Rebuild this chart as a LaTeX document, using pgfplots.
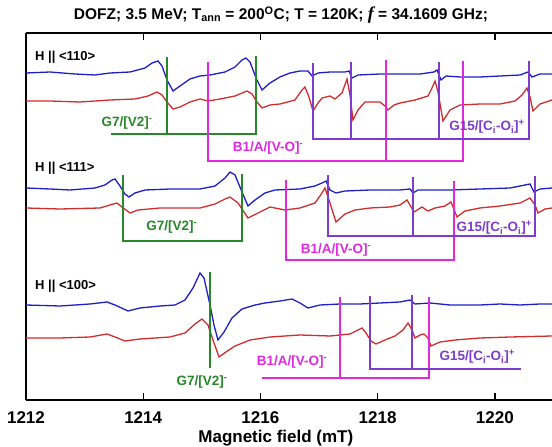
\documentclass[border=0pt]{standalone}
\usepackage{fontspec}
\setmainfont{Liberation Sans}
\newfontfamily\titleserif{Liberation Serif}
\usepackage{pgfplots}
\pgfplotsset{compat=1.18}
\definecolor{cblue}{RGB}{30,30,200}
\definecolor{cred}{RGB}{210,45,45}
\definecolor{cgreen}{RGB}{40,135,40}
\definecolor{cmag}{RGB}{225,40,225}
\definecolor{cvio}{RGB}{125,60,205}
\begin{document}
\begin{tikzpicture}
\useasboundingbox (0,0) rectangle (552pt,447pt);
\begin{axis}[
  at={(26pt,47pt)}, anchor=south west,
  scale only axis, width=526pt, height=367pt,
  xmin=1212, xmax=1220.976, ymin=47, ymax=414,
  axis x line*=box, axis y line*=left,
  axis line style={line width=1.6pt, black},
  xtick={1212,1214,1216,1218,1220},
  xticklabels={1212,1214,1216,1218,1220},
  ytick=\empty,
  tick align=inside, major tick length=7pt,
  tick style={line width=1.4pt, black},
  xticklabel style={font=\fontsize{17}{20}\selectfont\bfseries, anchor=center, yshift=-18pt},
  xlabel={Magnetic field (mT)},
  xlabel style={font=\fontsize{17}{20}\selectfont\bfseries, at={(axis description cs:0.475,0)}, anchor=center, yshift=-38pt},
  clip=false,
  every axis plot/.append style={line width=1.5pt, smooth, tension=0.45},
]
% ---------- H || <110>
\addplot[cblue] coordinates {
(1212.000,374) (1212.410,375) (1212.836,373) (1213.177,372) (1213.433,374) (1213.775,375)
(1214.031,379) (1214.150,384) (1214.253,386) (1214.321,381) (1214.406,367) (1214.509,356)
(1214.628,361) (1214.799,368) (1214.969,371) (1215.140,372) (1215.396,375) (1215.567,380)
(1215.686,387) (1215.754,389) (1215.823,385) (1215.925,369) (1216.027,357) (1216.164,364)
(1216.334,370) (1216.505,374) (1216.676,376) (1216.812,376) (1216.881,371) (1216.983,374)
(1217.188,375) (1217.444,375) (1217.512,376) (1217.563,369) (1217.666,372) (1218.041,373)
(1218.382,373) (1218.724,373) (1218.962,375) (1219.014,377) (1219.082,367) (1219.167,371)
(1219.406,370) (1219.747,370) (1220.089,371) (1220.430,372) (1220.567,375) (1220.635,370)
(1220.771,373) (1220.976,373)};
\addplot[cred] coordinates {
(1212.000,346) (1212.410,346) (1212.922,345) (1213.433,347) (1213.860,348) (1214.082,351)
(1214.235,355) (1214.321,352) (1214.406,345) (1214.509,338) (1214.628,340) (1214.799,345)
(1214.969,348) (1215.106,346) (1215.311,348) (1215.567,351) (1215.771,356) (1215.857,353)
(1215.942,345) (1216.027,339) (1216.164,342) (1216.334,343) (1216.590,347) (1216.710,357)
(1216.761,360) (1216.829,350) (1216.898,336) (1216.983,344) (1217.051,349) (1217.188,351)
(1217.273,348) (1217.392,354) (1217.478,368) (1217.529,352) (1217.580,327) (1217.666,337)
(1217.785,345) (1218.041,345) (1218.126,341) (1218.177,337) (1218.280,342) (1218.382,344)
(1218.638,347) (1218.860,351) (1218.928,359) (1218.980,366) (1219.031,355) (1219.116,326)
(1219.235,337) (1219.406,342) (1219.747,343) (1220.089,343) (1220.345,346) (1220.464,352)
(1220.549,359) (1220.601,350) (1220.652,336) (1220.771,343) (1220.976,347)};
% ---------- H || <111>
\addplot[cblue] coordinates {
(1212.000,259) (1212.410,258) (1212.751,257) (1213.177,259) (1213.348,262) (1213.468,267)
(1213.519,268) (1213.604,261) (1213.689,253) (1213.758,250) (1213.860,254) (1214.031,257)
(1214.457,258) (1214.969,258) (1215.225,261) (1215.396,269) (1215.481,275) (1215.567,272)
(1215.686,255) (1215.788,241) (1215.908,247) (1216.078,254) (1216.249,257) (1216.676,258)
(1216.932,261) (1217.051,264) (1217.119,266) (1217.188,257) (1217.290,254) (1217.444,256)
(1217.870,257) (1218.382,257) (1218.553,258) (1218.604,254) (1218.689,257) (1219.235,257)
(1219.747,258) (1220.259,259) (1220.515,262) (1220.601,263) (1220.669,255) (1220.771,258)
(1220.976,259)};
\addplot[cred] coordinates {
(1212.000,239) (1212.580,238) (1213.263,239) (1213.433,242) (1213.553,244) (1213.638,240)
(1213.775,234) (1213.911,237) (1214.287,239) (1214.969,239) (1215.225,243) (1215.396,248)
(1215.481,250) (1215.618,244) (1215.788,229) (1215.925,233) (1216.164,240) (1216.420,237)
(1216.676,239) (1216.932,244) (1217.051,254) (1217.102,259) (1217.171,247) (1217.290,225)
(1217.444,233) (1217.614,237) (1217.870,239) (1218.212,240) (1218.382,242) (1218.502,247)
(1218.621,235) (1218.758,240) (1218.860,236) (1218.980,239) (1219.150,241) (1219.253,245)
(1219.355,230) (1219.491,236) (1219.747,239) (1220.089,241) (1220.430,244) (1220.601,249)
(1220.686,242) (1220.737,234) (1220.857,238) (1220.976,239)};
% ---------- H || <100>
\addplot[cblue] coordinates {
(1212.000,142) (1212.580,141) (1213.092,143) (1213.382,145) (1213.519,142) (1213.741,136)
(1213.945,139) (1214.287,141) (1214.543,142) (1214.713,147) (1214.850,159) (1214.969,174)
(1215.038,169) (1215.140,142) (1215.208,122) (1215.276,107) (1215.379,115) (1215.515,129)
(1215.686,138) (1215.908,142) (1216.078,144) (1216.334,146) (1216.539,148) (1216.676,144)
(1216.812,139) (1217.017,142) (1217.358,143) (1217.700,143) (1218.041,144) (1218.382,145)
(1218.553,147) (1218.638,143) (1218.894,144) (1219.235,142) (1219.747,142) (1220.089,143)
(1220.430,142) (1220.771,143) (1220.976,143)};
\addplot[cred] coordinates {
(1212.000,109) (1212.580,109) (1213.092,110) (1213.382,113) (1213.519,110) (1213.689,106)
(1213.945,108) (1214.457,110) (1214.713,114) (1214.884,123) (1215.003,128) (1215.106,122)
(1215.191,107) (1215.294,90) (1215.413,95) (1215.567,101) (1215.823,107) (1216.164,110)
(1216.676,112) (1217.188,111) (1217.529,113) (1217.666,117) (1217.734,119) (1217.802,114)
(1217.887,106) (1217.973,103) (1218.126,107) (1218.297,111) (1218.433,117) (1218.519,124)
(1218.587,117) (1218.638,109) (1218.724,112) (1218.792,113) (1218.860,109) (1218.911,101)
(1219.065,105) (1219.321,107) (1219.747,109) (1220.259,110) (1220.976,111)};
% ---------- stick diagrams
\pgfplotsset{every axis plot/.append style={sharp plot, line width=1.3pt}}
% group 1
\addplot[cgreen, sharp plot] coordinates {(1213.451,313) (1215.925,313) (1215.925,391)};
\addplot[cgreen, sharp plot] coordinates {(1214.406,390) (1214.406,313)};
\addplot[cmag, sharp plot] coordinates {(1215.106,385) (1215.106,286) (1219.457,286) (1219.457,386)};
\addplot[cmag, sharp plot] coordinates {(1218.143,387) (1218.143,286)};
\addplot[cvio, sharp plot] coordinates {(1216.898,384) (1216.898,308) (1220.584,308) (1220.584,386)};
\addplot[cvio, sharp plot] coordinates {(1217.546,385) (1217.546,308)};
\addplot[cvio, sharp plot] coordinates {(1219.048,385) (1219.048,308)};
% group 2
\addplot[cgreen, sharp plot] coordinates {(1213.655,272) (1213.655,206) (1215.686,206) (1215.686,273)};
\addplot[cmag, sharp plot] coordinates {(1216.437,267) (1216.437,187) (1219.304,187) (1219.304,266)};
\addplot[cvio, sharp plot] coordinates {(1217.154,272) (1217.154,211) (1220.686,211) (1220.686,271)};
\addplot[cvio, sharp plot] coordinates {(1218.604,270) (1218.604,211)};
% group 3
\addplot[cgreen, sharp plot] coordinates {(1215.140,175) (1215.140,79)};
\addplot[cmag, sharp plot] coordinates {(1216.027,69) (1218.877,69) (1218.877,150)};
\addplot[cmag, sharp plot] coordinates {(1217.358,150) (1217.358,69)};
\addplot[cvio, sharp plot] coordinates {(1217.870,151) (1217.870,78) (1220.447,78)};
\addplot[cvio, sharp plot] coordinates {(1218.587,152) (1218.587,78)};
% ---------- labels
\tikzset{lab/.style={font=\fontsize{13.5}{15}\selectfont\bfseries, inner sep=0pt},
         hlab/.style={font=\fontsize{13}{15}\selectfont\bfseries, inner sep=0pt, anchor=west}}
\node[hlab] at (axis cs:1212.154,390) {H || <110>};
\node[hlab] at (axis cs:1212.154,279) {H || <111>};
\node[hlab] at (axis cs:1212.154,161) {H || <100>};
\node[lab, text=cgreen] at (axis cs:1213.724,324) {G7/[V2]\textsuperscript{-}};
\node[lab, text=cmag] at (axis cs:1216.130,299) {B1/A/[V-O]\textsuperscript{-}};
\node[lab, text=cvio] at (axis cs:1219.867,320) {G15/[C\textsubscript{i}-O\textsubscript{i}]\textsuperscript{+}};
\node[lab, text=cgreen] at (axis cs:1214.49,220) {G7/[V2]\textsuperscript{-}};
\node[lab, text=cmag] at (axis cs:1217.29,197) {B1/A/[V-O]\textsuperscript{-}};
\node[lab, text=cvio] at (axis cs:1219.99,219) {G15/[C\textsubscript{i}-O\textsubscript{i}]\textsuperscript{+}};
\node[lab, text=cgreen] at (axis cs:1215.003,65) {G7/[V2]\textsuperscript{-}};
\node[lab, text=cmag] at (axis cs:1216.54,85) {B1/A/[V-O]\textsuperscript{-}};
\node[lab, text=cvio] at (axis cs:1219.70,90) {G15/[C\textsubscript{i}-O\textsubscript{i}]\textsuperscript{+}};
\end{axis}
\node[font=\fontsize{15.5}{18}\selectfont\bfseries] at (281pt,432pt)
 {DOFZ; 3.5 MeV; T\textsubscript{ann} = 200\textsuperscript{O}C; T = 120K; {\titleserif\bfseries\itshape\fontsize{18}{18}\selectfont f} = 34.1609 GHz;};
\end{tikzpicture}
\end{document}
